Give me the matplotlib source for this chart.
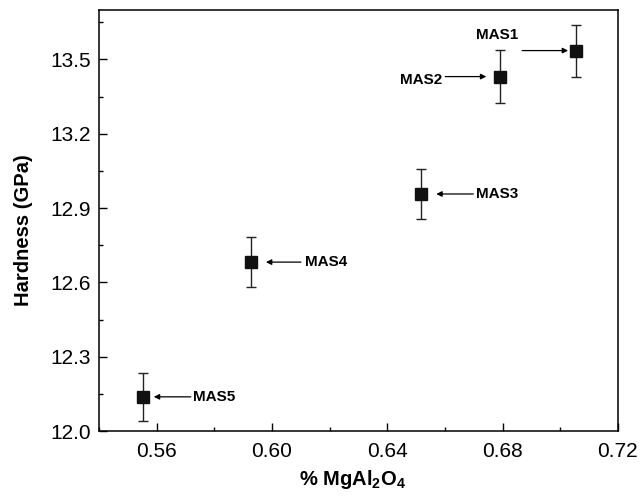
import matplotlib
matplotlib.use("Agg")
import matplotlib.pyplot as plt
from matplotlib.ticker import MultipleLocator

# data
samples = ["MAS1", "MAS2", "MAS3", "MAS4", "MAS5"]
spinel = [0.7055, 0.6792, 0.6518, 0.5927, 0.5552]
hardness = [13.536, 13.431, 12.957, 12.682, 12.138]
hardness_err = [0.105, 0.107, 0.102, 0.100, 0.098]

# label placement in pixels relative to each point: (arrow tail dx, arrow head dx, text dx, text dy, ha)
label_pos = {
    "MAS1": (-54, -8, -79, 16, "center"),
    "MAS2": (-55, -14, -58, -3, "right"),
    "MAS3": (52, 15, 55, 0, "left"),
    "MAS4": (50, 15, 54, 0, "left"),
    "MAS5": (48, 11, 50, 0, "left"),
}

plt.rcParams['font.family'] = ['Liberation Sans', 'DejaVu Sans']
plt.rcParams['mathtext.fontset'] = 'custom'
plt.rcParams['mathtext.bf'] = 'Liberation Sans:bold'
plt.rcParams['mathtext.rm'] = 'Liberation Sans'

fig = plt.figure(figsize=(6.41, 4.98), dpi=100)
ax = fig.add_axes([0.1544, 0.1345, 0.8096, 0.8455])

ax.errorbar(spinel, hardness, yerr=hardness_err, fmt='s', color='#111111',
            ms=9, ecolor='#222222', elinewidth=1, capsize=3.5, capthick=1)

for name, x, y in zip(samples, spinel, hardness):
    tail, head, tdx, tdy, ha = label_pos[name]
    ax.annotate('', xy=(x, y), xytext=(tail, 0), textcoords='offset pixels',
                arrowprops=dict(arrowstyle='-|>', color='black', lw=0.9,
                                shrinkA=0, shrinkB=abs(head) * 0.72,
                                mutation_scale=8))
    ax.annotate(name, xy=(x, y), xytext=(tdx, tdy), textcoords='offset pixels',
                ha=ha, va='center', fontsize=11, fontweight='bold')

ax.set_xlim(0.54, 0.72)
ax.set_ylim(12.0, 13.7)
ax.xaxis.set_major_locator(MultipleLocator(0.04))
ax.xaxis.set_minor_locator(MultipleLocator(0.02))
ax.yaxis.set_major_locator(MultipleLocator(0.3))
ax.yaxis.set_minor_locator(MultipleLocator(0.15))
ax.xaxis.set_major_formatter(plt.FormatStrFormatter('%.2f'))
ax.yaxis.set_major_formatter(plt.FormatStrFormatter('%.1f'))
ax.tick_params(which='both', direction='in', top=False, right=False, labelsize=15)
ax.tick_params(axis='x', which='major', pad=8)
ax.tick_params(axis='y', which='major', pad=6)
ax.tick_params(which='major', length=6, width=1)
ax.tick_params(which='minor', length=3, width=1)
for s in ax.spines.values():
    s.set_linewidth(1.1)

ax.set_xlabel('% MgAl$_\\mathbf{2}$O$_\\mathbf{4}$', fontsize=14.5, fontweight='bold')
ax.set_ylabel('Hardness (GPa)', fontsize=14.5, fontweight='bold')
ax.xaxis.set_label_coords(0.489, -0.116)
ax.xaxis.label.set_va('center')
ax.yaxis.set_label_coords(-0.1445, 0.477)
ax.yaxis.label.set_va('center')

fig.savefig('out.png', dpi=100)
